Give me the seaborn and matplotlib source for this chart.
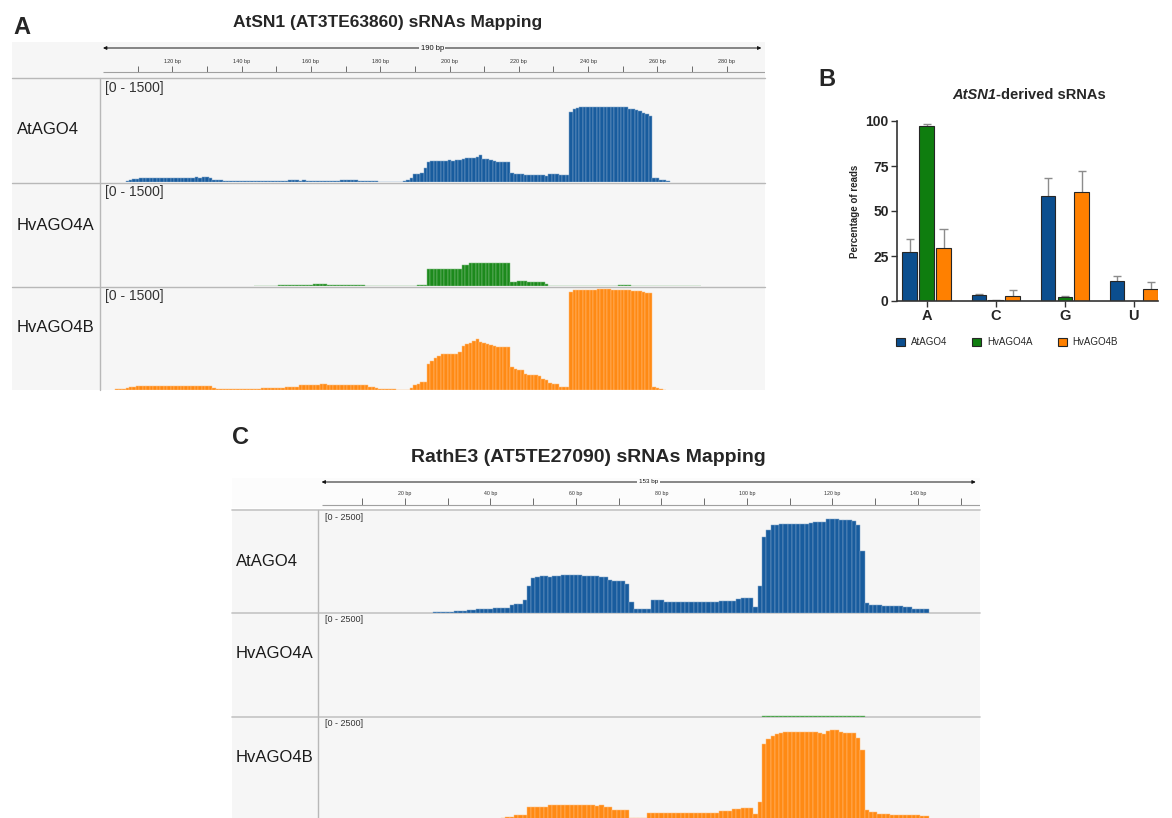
import numpy as np
import pandas as pd
import matplotlib
matplotlib.use("Agg")
import matplotlib.pyplot as plt
from matplotlib.colors import to_rgb
from matplotlib.patches import Rectangle, Patch
import seaborn as sns

sns.set_theme(style="white")
plt.rcParams['font.family'] = ['Liberation Sans', 'DejaVu Sans']

W, H = 1172, 818

# ---------------- DATA ----------------
samples = ["AtAGO4", "HvAGO4A", "HvAGO4B"]
igv_colors = ["#185c9e", "#1c8a1c", "#ff8a14"]
bar_colors = ["#0b4e8e", "#0f7d0f", "#ff8000"]

# panel A - AtSN1 coverage, reads per position (first position given by *_start)
atsn1_ticks = [110, 120, 130, 140, 150, 160, 170, 180, 190, 200, 210, 220, 230, 240, 250, 260, 270, 280]
atsn1_labels = [120, 140, 160, 180, 200, 220, 240, 260, 280]

atsn1_ago4_start = 107
atsn1_ago4 = [20, 35, 45, 50, 55,
              58, 60, 60, 62, 60, 62, 63, 60, 62, 63,
              62, 64, 62, 63, 65, 66, 64, 66, 68, 62,
              30, 25, 22, 20, 20, 18, 18, 18, 18, 18,
              18, 17, 17, 16, 16, 18, 18, 15, 15, 18,
              20, 20, 22, 24, 22, 20, 22, 20, 20, 20,
              20, 18, 18, 18, 18, 18, 20, 22, 25, 25,
              25, 22, 20, 20, 15, 15, 12, 10, 5, 5,
              0, 0, 0, 0, 0,
              8, 30, 60, 110, 115, 130, 200, 290, 300, 305,
              310, 305, 310, 315, 310, 315, 315, 340, 345, 345,
              350, 360, 400, 340, 330, 320, 300, 295, 290, 290,
              285, 130, 115, 110, 110, 108, 105, 105, 100, 100,
              95, 85, 115, 118, 115, 105, 100, 100,
              1015, 1060, 1080, 1085, 1085, 1088, 1088, 1090, 1090, 1092,
              1095, 1095, 1098, 1098, 1095, 1095, 1090, 1070, 1060, 1045,
              1030, 1010, 985, 960,
              60, 55, 25, 22, 20]

atsn1_hvago4a_start = 144
atsn1_hvago4a = [3, 3, 3, 3, 3, 3, 3,
                 18, 18, 18, 18, 18, 18, 18, 18, 18, 20,
                 35, 35, 35, 30,
                 20, 20, 20, 20, 18, 18, 18, 18, 18, 18, 15,
                 6, 6, 6, 6, 6, 6, 6, 6, 6, 6,
                 0, 0, 0, 0, 0,
                 10, 10, 12,
                 245, 250, 250, 250, 250, 250, 250, 252, 252, 250,
                 305, 305,
                 335, 340, 340, 342, 342, 342, 340, 340, 338, 335, 330, 330,
                 65, 65, 66, 66, 66, 64, 64, 62, 60, 55,
                 25, 6, 6, 6, 5,
                 0, 0, 0, 0, 0,
                 4, 4, 4, 4, 4, 4, 4, 4, 4, 4, 4,
                 10, 10, 10, 10,
                 4, 4, 4, 4, 4, 4, 4, 4, 4, 4, 4, 4, 4, 4, 4, 4, 4, 4, 4, 4]

atsn1_hvago4b_start = 104
atsn1_hvago4b = [10, 10, 12,
                 35, 40, 45,
                 55, 58, 58, 58, 58, 58, 58, 58, 60, 60, 60,
                 60, 58, 58, 60, 60, 62, 62, 65, 65, 65, 62,
                 25,
                 15, 15, 15, 15, 16, 16, 18, 18, 18, 18, 20, 20, 20, 22, 22,
                 25, 25, 28, 28, 30,
                 42, 45, 48, 48,
                 70, 72, 75, 75, 78, 80, 82, 82, 80, 78,
                 78, 76, 76, 76, 76, 75, 75, 74, 72, 70,
                 40, 38, 35,
                 10, 10, 8, 8, 8, 5,
                 0, 0, 3,
                 30, 80, 90, 110, 120,
                 380, 420, 470, 500, 520, 525, 525, 530, 530, 550,
                 640, 665, 680, 720, 740, 700, 690, 670, 650, 635,
                 630, 625, 625, 625,
                 340, 300, 290, 285, 230, 225, 220, 220, 210, 160,
                 150, 95, 90, 90, 40, 40, 40,
                 1420, 1450, 1455, 1460, 1460, 1462, 1462, 1462, 1465, 1465,
                 1465, 1465, 1462, 1462, 1460, 1460, 1458, 1455, 1445, 1440,
                 1435, 1420, 1415, 1410,
                 40, 35, 8, 5]

# panel B - first nucleotide of AtSN1 sRNAs (% of reads, mean and error)
nucleotides = ["A", "C", "G", "U"]
pct_atago4 = [27.0, 3.1, 58.4, 10.9]
pct_hvago4a = [97.3, 0.3, 2.2, 0.0]
pct_hvago4b = [29.4, 3.0, 60.3, 6.7]
err_atago4 = [7.2, 0.6, 9.8, 2.8]
err_hvago4a = [1.2, 0.3, 0.8, 0.0]
err_hvago4b = [10.6, 2.9, 12.2, 3.8]
pct_ticks = [0, 25, 50, 75, 100]

# panel C - RathE3 coverage
rathe3_ticks = [10, 20, 30, 40, 50, 60, 70, 80, 90, 100, 110, 120, 130, 140, 150]
rathe3_labels = [20, 40, 60, 80, 100, 120, 140]

rathe3_ago4_start = 27
rathe3_ago4 = [8, 12, 15, 18, 20,
               30, 32, 45, 50, 55,
               75, 80, 82, 85,
               100, 105, 108, 110,
               175, 205, 215, 310, 660, 860,
               885, 890, 890, 885, 890,
               910, 912, 915, 915, 915, 912,
               895, 890, 895, 888, 885, 880,
               795, 780, 785, 775, 700, 265,
               80, 80, 80, 80,
               310, 310, 300,
               270, 268, 268, 265, 265, 265, 262, 262,
               262, 262, 265, 268, 270,
               285, 290, 290, 295,
               340, 345, 345, 345,
               145, 665, 1865, 2025, 2150,
               2165, 2170, 2170, 2170, 2170, 2175,
               2185, 2190,
               2210, 2225, 2230, 2235,
               2300, 2310, 2310,
               2280, 2275, 2270, 2265,
               2150, 1520, 245,
               185, 180, 180,
               165, 160, 160, 158, 155,
               130, 128,
               95, 92, 90, 88]

rathe3_hvago4a_start = 104
rathe3_hvago4a = [8, 8, 8, 8, 8, 8, 8, 8, 8, 8, 8, 8, 8,
                  15, 15, 15, 15, 15,
                  8, 8, 8, 8, 8, 8]

rathe3_hvago4b_start = 43
rathe3_hvago4b = [35, 40, 45,
                  95, 100, 105,
                  290,
                  295, 300, 300, 300,
                  345, 348, 350, 350, 350, 350, 350, 348, 345,
                  335, 335, 332, 345,
                  290, 290,
                  225, 222, 220, 220,
                  25, 25, 22, 28,
                  140, 140, 142, 142, 142, 142, 140, 140, 140, 138, 140, 140, 140,
                  152, 155, 155, 155,
                  200, 205, 210,
                  245, 248,
                  270, 272, 270,
                  125, 410,
                  1845, 1990, 2065, 2105,
                  2140, 2145, 2150, 2150, 2150, 2150, 2150, 2150, 2145, 2140,
                  2115,
                  2190, 2195, 2195,
                  2145, 2140, 2140, 2135,
                  2010, 1720, 220,
                  165, 165,
                  125, 125, 120,
                  95, 92, 90, 90, 90, 88, 88, 85, 85]

# ---------------- FIGURE ----------------
fig = plt.figure(figsize=(W / 100, H / 100), dpi=100)
bg = fig.add_axes([0, 0, 1, 1])
bg.set_xlim(0, W)
bg.set_ylim(H, 0)
bg.axis('off')


def px_axes(x0, y0, x1, y1):
    return fig.add_axes([x0 / W, 1 - y1 / H, (x1 - x0) / W, (y1 - y0) / H])


def lighten(c, f):
    r, g, b = to_rgb(c)
    return (r + (1 - r) * f, g + (1 - g) * f, b + (1 - b) * f)


def draw_track(ax, start, values, color, xlim, ymax):
    pos = np.arange(start, start + len(values))
    sns.barplot(x=pos, y=values, native_scale=True, orient='x', color=color,
                saturation=1, width=1.0, edgecolor=lighten(color, 0.45), linewidth=0.35,
                errorbar=None, ax=ax)
    ax.set_xlim(*xlim)
    ax.set_ylim(0, ymax)
    ax.axis('off')


def draw_ruler(ax, xlim, span, ticks, labels, y, bgc, fs_lab, fs_span):
    ax.set_xlim(*xlim)
    ax.set_ylim(y[4], y[0])
    ax.axis('off')
    ax.annotate('', xy=(span[0], y[1]), xytext=(span[1], y[1]),
                arrowprops=dict(arrowstyle='<|-|>', color='#111111', lw=0.7,
                                mutation_scale=5, shrinkA=0, shrinkB=0))
    ax.text((span[0] + span[1]) / 2, y[1], f'{round(span[1] - span[0])} bp',
            ha='center', va='center', fontsize=fs_span, color='#111111',
            bbox=dict(fc=bgc, ec='none', pad=1.2))
    ax.vlines(ticks, y[2] + 4, y[3], color='#555555', lw=0.6)
    ax.hlines(y[3], span[0], xlim[1], color='#a0a0a0', lw=0.8)
    for t in labels:
        ax.text(t, y[2], f'{t} bp', ha='center', va='center', fontsize=fs_lab, color='#333333')


# ---- panel A ----
bg.add_patch(Rectangle((12, 42), 753, 348, fc='#f6f6f6', ec='none'))
for yy in [78, 182.5, 286.5]:
    bg.plot([12, 765], [yy, yy], color='#b8b8b8', lw=1)
bg.plot([100, 100], [78, 390], color='#b8b8b8', lw=1)
bg.text(13, 27, 'A', fontsize=17, fontweight='bold', va='center', ha='left')
bg.text(388, 22, 'AtSN1 (AT3TE63860) sRNAs Mapping', fontsize=12.5, fontweight='bold',
        ha='center', va='center')

xlim_a = (99.13, 291.05)
rulerA = px_axes(100, 42, 765, 78)
draw_ruler(rulerA, xlim_a, (100, 290), atsn1_ticks, atsn1_labels,
           (42, 48, 62, 72, 78), '#f6f6f6', 4, 5.5)

tracksA = [(atsn1_ago4_start, atsn1_ago4), (atsn1_hvago4a_start, atsn1_hvago4a),
           (atsn1_hvago4b_start, atsn1_hvago4b)]
boxesA = [(79, 182), (183, 286), (287, 390)]
name_yA = [130, 225, 327]
for i, ((st, vals), (t0, t1)) in enumerate(zip(tracksA, boxesA)):
    ax = px_axes(100, t0, 765, t1)
    draw_track(ax, st, vals, igv_colors[i], xlim_a, 1500)
    bg.text(17, name_yA[i], samples[i], fontsize=12, va='center', ha='left', color='#1a1a1a')
    bg.text(105, t0 + 9, '[0 - 1500]', fontsize=10, va='center', ha='left', color='#333333')

# ---- panel B ----
bg.text(818, 80, 'B', fontsize=17, fontweight='bold', va='center', ha='left')
bg.text(996, 95, 'AtSN1', fontsize=10.5, fontweight='bold', fontstyle='italic', ha='right', va='center')
bg.text(996, 95, '-derived sRNAs', fontsize=10.5, fontweight='bold', ha='left', va='center')

dfB = pd.DataFrame({
    'nucleotide': nucleotides * 3,
    'sample': np.repeat(samples, len(nucleotides)),
    'percent': pct_atago4 + pct_hvago4a + pct_hvago4b,
    'err': err_atago4 + err_hvago4a + err_hvago4b,
})
axB = px_axes(897, 121, 1158, 301)
axB.set_facecolor('none')
sns.barplot(data=dfB, x='nucleotide', y='percent', hue='sample', order=nucleotides,
            hue_order=samples, palette=bar_colors, saturation=1, width=0.735, gap=0.14,
            edgecolor='#262626', linewidth=0.8, errorbar=None, legend=False, ax=axB)

dfB['ci'] = dfB['nucleotide'].map({n: i for i, n in enumerate(nucleotides)})
dfB['si'] = dfB['sample'].map({s: i for i, s in enumerate(samples)})
dfB = dfB.sort_values(['ci', 'si'])
bars = sorted(axB.patches, key=lambda p: p.get_x())
xs = np.array([b.get_x() + b.get_width() / 2 for b in bars])
tops = dfB['percent'].to_numpy() + dfB['err'].to_numpy()
axB.vlines(xs, dfB['percent'], tops, color='#8c8c8c', lw=1, zorder=0.5)
axB.hlines(tops, xs - 0.06, xs + 0.06, color='#8c8c8c', lw=1, zorder=0.5)

axB.set_xlim(-0.43, 3.35)
axB.set_ylim(0, 100)
axB.set_yticks(pct_ticks)
axB.set_yticklabels([str(t) for t in pct_ticks], fontsize=10, fontweight='bold')
for lbl in axB.get_xticklabels():
    lbl.set_fontweight('bold')
    lbl.set_fontsize(10.5)
axB.set_xlabel('')
axB.set_ylabel('Percentage of reads', fontsize=7, fontweight='bold', labelpad=4)
sns.despine(ax=axB)
for sp in ['left', 'bottom']:
    axB.spines[sp].set_color('#333333')
    axB.spines[sp].set_linewidth(1.2)
axB.tick_params(axis='both', bottom=True, left=True, length=4, width=1, color='#333333', pad=2)

handles = [Patch(facecolor=c, edgecolor='#262626', lw=0.8, label=s) for s, c in zip(samples, bar_colors)]
fig.legend(handles=handles, loc='center', bbox_to_anchor=(1007 / W, 1 - 342 / H), ncol=3,
           frameon=False, fontsize=7, handlelength=0.9, handleheight=0.9,
           handletextpad=0.6, columnspacing=2.6)

# ---- panel C ----
bg.add_patch(Rectangle((232, 478), 748, 30, fc='#fcfcfc', ec='none'))
bg.add_patch(Rectangle((232, 510), 748, 308, fc='#f6f6f6', ec='none'))
for yy in [510, 613, 717]:
    bg.plot([232, 980], [yy, yy], color='#c4c4c4', lw=1.2)
bg.plot([318, 318], [510, 818], color='#b8b8b8', lw=1)
bg.text(232, 437, 'C', fontsize=17, fontweight='bold', va='center', ha='left')
bg.text(588, 457, 'RathE3 (AT5TE27090) sRNAs Mapping', fontsize=14, fontweight='bold',
        ha='center', va='center')

xlim_c = (-0.34, 154.5)
rulerC = px_axes(318, 474, 980, 508)
draw_ruler(rulerC, xlim_c, (0.5, 153.5), rathe3_ticks, rathe3_labels,
           (474, 482, 494, 505, 508), '#fcfcfc', 3.8, 4.5)

tracksC = [(rathe3_ago4_start, rathe3_ago4), (rathe3_hvago4a_start, rathe3_hvago4a),
           (rathe3_hvago4b_start, rathe3_hvago4b)]
boxesC = [(511, 612.5), (614, 716.5), (718, 819)]
name_yC = [561, 654, 757]
for i, ((st, vals), (t0, t1)) in enumerate(zip(tracksC, boxesC)):
    ax = px_axes(318, t0, 980, t1)
    draw_track(ax, st, vals, igv_colors[i], xlim_c, 2500)
    bg.text(236, name_yC[i], samples[i], fontsize=12, va='center', ha='left', color='#1a1a1a')
    bg.text(325, t0 + 6, '[0 - 2500]', fontsize=6.5, va='center', ha='left', color='#333333')

fig.savefig('out.png', dpi=100)
